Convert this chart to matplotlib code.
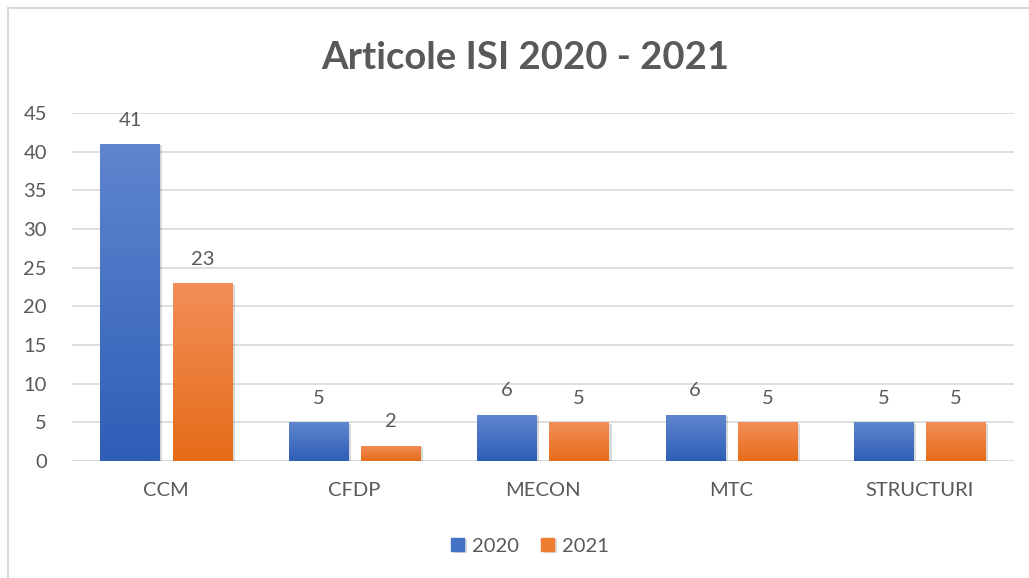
import numpy as np
import matplotlib
matplotlib.use('Agg')
import matplotlib.pyplot as plt
from matplotlib.colors import LinearSegmentedColormap
import matplotlib.patheffects as pe

plt.rcParams['font.family'] = ['Lato', 'DejaVu Sans']

categories = ['CCM', 'CFDP', 'MECON', 'MTC', 'STRUCTURI']
series_names = ['2020', '2021']
vals_2020 = [41, 5, 6, 6, 5]
vals_2021 = [23, 2, 5, 5, 5]

# gradient colours, top -> bottom
blue_top, blue_bot = '#5F86CE', '#2F5EB7'
orange_top, orange_bot = '#F28E58', '#E56C18'
txt = '#595959'
grid_c = '#D9D9D9'

fig = plt.figure(figsize=(10.29, 5.78), dpi=100)
ax = fig.add_axes([72 / 1029, 1 - 461 / 578, 942 / 1029, 348 / 578])

x = np.arange(len(categories))
w = 0.315
off = 0.192

shadow = [pe.SimplePatchShadow(offset=(2, -1), shadow_rgbFace='#000000', alpha=0.15), pe.Normal()]
b1 = ax.bar(x - off, vals_2020, w, color=blue_bot, label=series_names[0], zorder=3,
            path_effects=shadow)
b2 = ax.bar(x + off, vals_2021, w, color=orange_bot, label=series_names[1], zorder=3,
            path_effects=shadow)

grad = np.linspace(0, 1, 256).reshape(-1, 1)
for bars, c_top, c_bot in [(b1, blue_top, blue_bot), (b2, orange_top, orange_bot)]:
    cmap = LinearSegmentedColormap.from_list('g', [c_top, c_bot])
    for r in bars:
        x0, y0 = r.get_x(), r.get_y()
        im = ax.imshow(grad, cmap=cmap, aspect='auto', origin='upper',
                       extent=[x0, x0 + r.get_width(), y0, y0 + r.get_height()], zorder=4)
        im.set_clip_path(r)

for bars in (b1, b2):
    ax.bar_label(bars, padding=11, fontsize=14.5, color=txt, zorder=5)

ax.set_xlim(-0.5, len(categories) - 0.5)
ax.set_ylim(0, 45)
ax.set_yticks(range(0, 46, 5))
ax.set_xticks(x)
ax.set_xticklabels(categories)
ax.tick_params(axis='both', length=0, labelsize=14.5, colors=txt)
ax.tick_params(axis='x', pad=15)
ax.tick_params(axis='y', pad=18)
ax.grid(axis='y', color=grid_c, lw=1.2, zorder=0)
for s in ax.spines.values():
    s.set_visible(False)
ax.axhline(0, color=grid_c, lw=1.8, zorder=2)

fig.text(0.51, 0.90, 'Articole ISI 2020 - 2021', ha='center', va='center',
         fontsize=27.5, fontweight='bold', color=txt)

leg = fig.legend(handles=[b1, b2], labels=series_names, loc='center',
                 bbox_to_anchor=(0.515, 0.055), ncol=2, frameon=False,
                 fontsize=14.5, handlelength=0.65, handleheight=0.65,
                 handletextpad=0.4, columnspacing=1.1)
for t in leg.get_texts():
    t.set_color(txt)
leg.legend_handles[0].set_color('#4472C4')
leg.legend_handles[1].set_color('#ED7D31')

# outer chart frame (left and top edges)
fig.add_artist(plt.Line2D([8 / 1029, 8 / 1029], [0, 1 - 8 / 578], color=grid_c, lw=1.5,
                          transform=fig.transFigure))
fig.add_artist(plt.Line2D([8 / 1029, 1], [1 - 8 / 578, 1 - 8 / 578], color=grid_c, lw=1.5,
                          transform=fig.transFigure))

fig.savefig('out.png', dpi=100)
